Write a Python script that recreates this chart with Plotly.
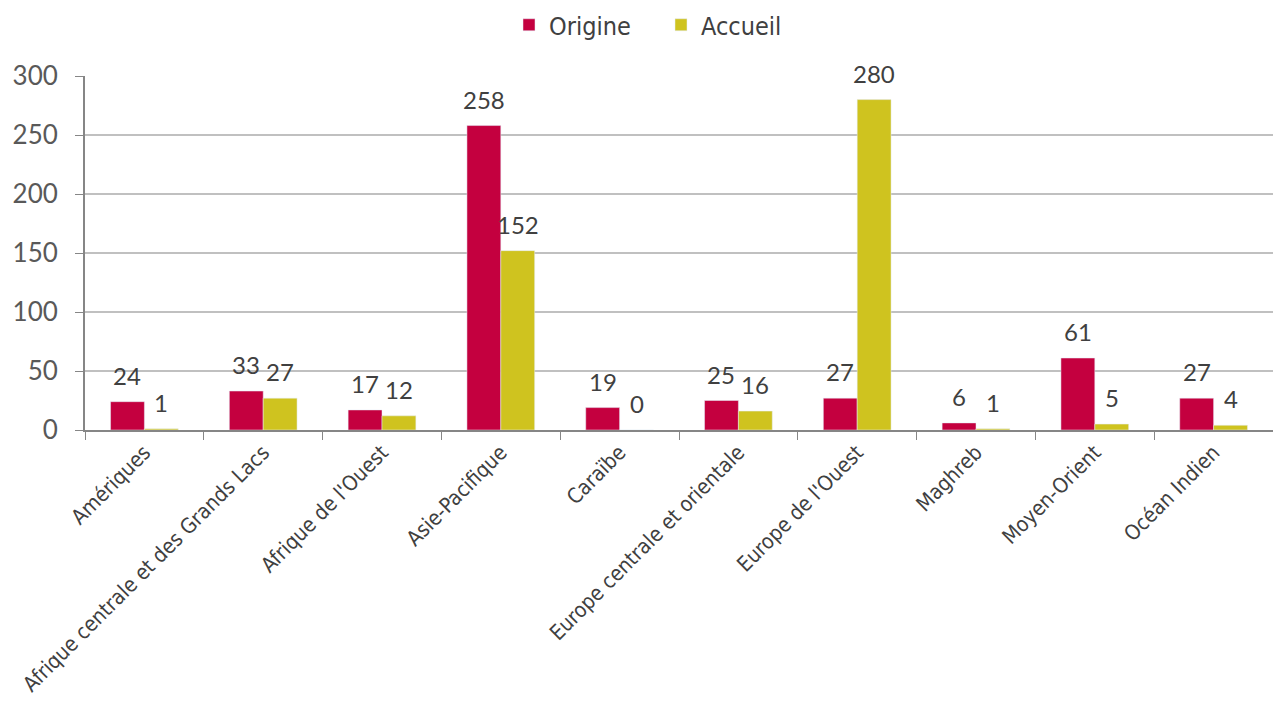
import plotly.graph_objects as go

categories = ["Amériques", "Afrique centrale et des Grands Lacs", "Afrique de l'Ouest",
              "Asie-Pacifique", "Caraïbe", "Europe centrale et orientale",
              "Europe de l'Ouest", "Maghreb", "Moyen-Orient", "Océan Indien"]
origine = [24, 33, 17, 258, 19, 25, 27, 6, 61, 27]
accueil = [1, 27, 12, 152, 0, 16, 280, 1, 5, 4]

W, H = 1273, 702
ML, MR, MT, MB = 85, 0, 76, 272
plot_w = W - ML - MR
plot_h = H - MT - MB
bargap = 0.43
half_bar = plot_w / len(categories) * (1 - bargap) / 4

num_font = dict(family="Lato, DejaVu Sans", size=24, color="#404040")

fig = go.Figure()
fig.add_trace(go.Bar(name="Origine", x=categories, y=origine, marker_color="#C4003F"))
fig.add_trace(go.Bar(name="Accueil", x=categories, y=accueil, marker_color="#CFC31F"))

for series, shift in ((origine, -half_bar), (accueil, half_bar)):
    for cat, val in zip(categories, series):
        fig.add_annotation(x=cat, y=val, text=str(val), showarrow=False, xshift=shift,
                           yanchor="bottom", yshift=10, font=num_font)

fig.update_layout(
    width=W, height=H,
    barmode="group", bargap=bargap, bargroupgap=0,
    plot_bgcolor="white", paper_bgcolor="white",
    margin=dict(l=ML, r=MR, t=MT, b=MB),
    legend=dict(orientation="h", x=(509 - 85) / plot_w, xanchor="left",
                y=1 + 51 / plot_h, yanchor="middle", entrywidth=107,
                font=dict(family="Liberation Sans Narrow, DejaVu Sans Condensed, Lato", size=25,
                          color="#404040"),
                itemwidth=30),
)
fig.update_yaxes(range=[0, 300], dtick=50, showgrid=True, gridcolor="#C0C0C0", gridwidth=1.5,
                 showline=True, linecolor="#868686", linewidth=2, ticks="outside", ticklen=8,
                 tickcolor="#868686", ticklabelstandoff=12, automargin=False,
                 tickfont=dict(family="Lato, DejaVu Sans", size=26, color="#595959"),
                 zeroline=False)
fig.update_xaxes(showline=True, linecolor="#868686", linewidth=2, ticks="outside", ticklen=8,
                 tickcolor="#868686", tickson="boundaries", tickangle=-45, automargin=False,
                 tickfont=dict(family="Liberation Sans Narrow, DejaVu Sans Condensed, Lato",
                               size=21, color="#404040"))

fig.write_html("out.html", config={"displayModeBar": False},
               post_script="document.body.style.margin='0';")
